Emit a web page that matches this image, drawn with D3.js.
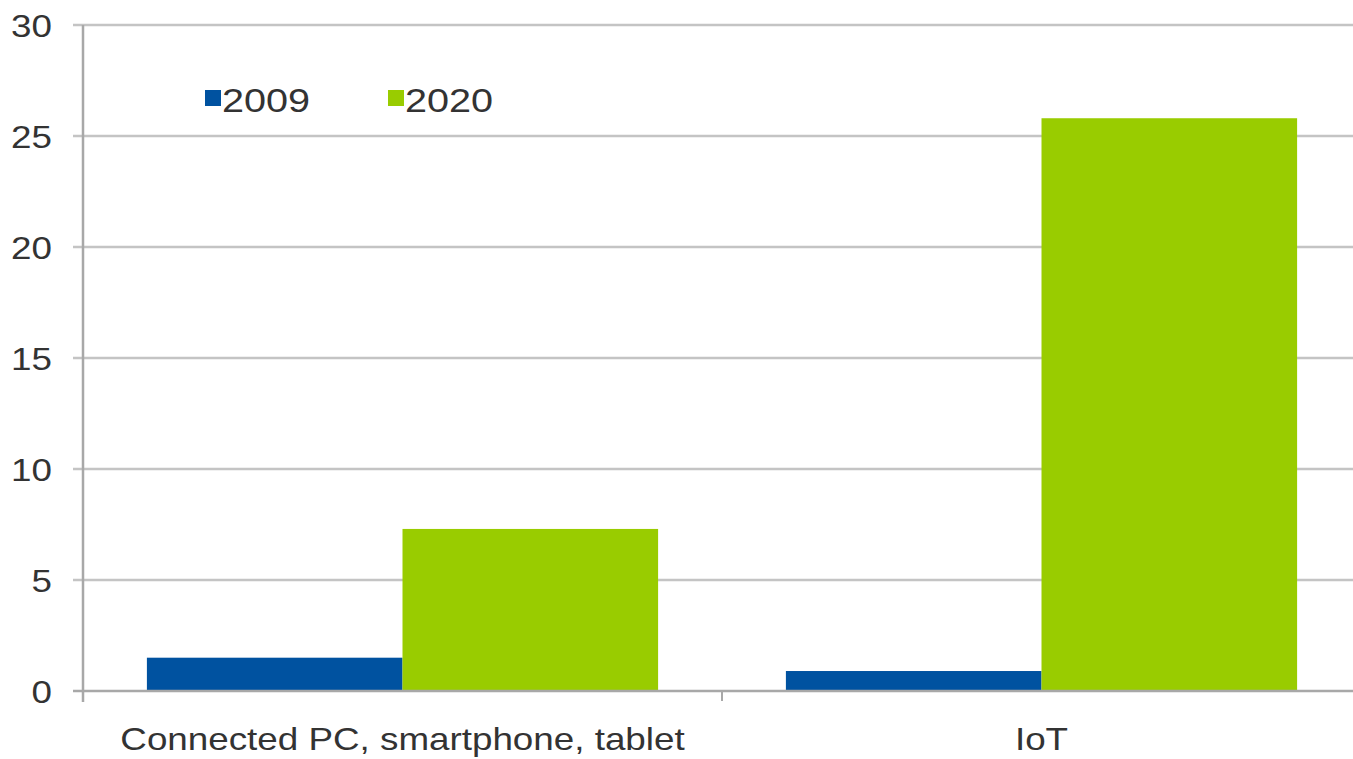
<!DOCTYPE html>
<html>
<head>
<meta charset="utf-8">
<script src="https://cdn.jsdelivr.net/npm/d3@7"></script>
<style>
  html, body { margin: 0; padding: 0; background: #fff; }
  svg { display: block; font-family: "Liberation Sans", Arial, sans-serif; }
</style>
</head>
<body>
<div id="app"></div>
<script>
// 数据
const categories = ["Connected PC, smartphone, tablet", "IoT"];
const seriesNames = ["2009", "2020"];
const values2009 = [1.5, 0.9];
const values2020 = [7.3, 25.8];
const yTicks = [0, 5, 10, 15, 20, 25, 30];
const colors = ["#0052a0", "#99cc00"];

const width = 1353, height = 759;
const margin = { left: 83, top: 25, right: -8, bottom: 68 };
const stretch = 1.15; // 原图文字略微横向拉伸

const svg = d3.select("#app").append("svg")
    .attr("width", width)
    .attr("height", height);

// 坐标轴比例尺
const x = d3.scaleBand()
    .domain(categories)
    .range([margin.left, width - margin.right])
    .padding(0);

const xInner = d3.scaleBand()
    .domain(seriesNames)
    .range([0, x.bandwidth()])
    .paddingOuter(0.25)
    .paddingInner(0);

const y = d3.scaleLinear()
    .domain([0, 30])
    .range([height - margin.bottom, margin.top]);

// 网格线
svg.append("g")
    .selectAll("line")
    .data(yTicks.filter(d => d > 0))
    .enter().append("line")
    .attr("x1", margin.left - 10)
    .attr("x2", width)
    .attr("y1", d => y(d))
    .attr("y2", d => y(d))
    .attr("stroke", "#c4c4c4")
    .attr("stroke-width", 2.5);

// 柱子
const rows = categories.map((c, i) => ({ cat: c, vals: [values2009[i], values2020[i]] }));
const group = svg.append("g")
    .selectAll("g")
    .data(rows)
    .enter().append("g")
    .attr("transform", d => `translate(${x(d.cat)},0)`);

group.selectAll("rect")
    .data(d => d.vals.map((v, j) => ({ key: seriesNames[j], v, j })))
    .enter().append("rect")
    .attr("x", d => xInner(d.key))
    .attr("width", xInner.bandwidth())
    .attr("y", d => y(d.v))
    .attr("height", d => y(0) - y(d.v))
    .attr("fill", d => colors[d.j]);

// 纵轴
svg.append("line")
    .attr("x1", margin.left).attr("x2", margin.left)
    .attr("y1", y(30)).attr("y2", y(0) + 11)
    .attr("stroke", "#a8a8a8")
    .attr("stroke-width", 2.5);

svg.append("line")
    .attr("x1", margin.left - 10).attr("x2", width)
    .attr("y1", y(0)).attr("y2", y(0))
    .attr("stroke", "#a8a8a8")
    .attr("stroke-width", 2.5);

// 分类刻度
svg.append("g")
    .selectAll("line")
    .data(categories.slice(1))
    .enter().append("line")
    .attr("x1", d => x(d)).attr("x2", d => x(d))
    .attr("y1", y(0)).attr("y2", y(0) + 10)
    .attr("stroke", "#a8a8a8")
    .attr("stroke-width", 2);

// 纵轴标签
svg.append("g")
    .selectAll("text")
    .data(yTicks)
    .enter().append("text")
    .attr("transform", d => `translate(52,${y(d)}) scale(${stretch},1)`)
    .attr("dy", "0.36em")
    .attr("text-anchor", "end")
    .style("font-size", "32px")
    .style("fill", "#333")
    .text(d => d);

// 横轴标签
svg.append("g")
    .selectAll("text")
    .data(categories)
    .enter().append("text")
    .attr("transform", d => `translate(${x(d) + x.bandwidth() / 2},750) scale(${stretch},1)`)
    .attr("text-anchor", "middle")
    .style("font-size", "32px")
    .style("fill", "#333")
    .text(d => d);

// 图例
const legendX = [205, 388];
const legend = svg.append("g")
    .selectAll("g")
    .data(seriesNames)
    .enter().append("g")
    .attr("transform", (d, i) => `translate(${legendX[i]},90)`);

legend.append("rect")
    .attr("width", 16)
    .attr("height", 16)
    .attr("fill", (d, i) => colors[i]);

legend.append("text")
    .attr("transform", `translate(17,22) scale(1.2,1)`)
    .style("font-size", "33px")
    .style("fill", "#333")
    .text(d => d);
</script>
</body>
</html>
